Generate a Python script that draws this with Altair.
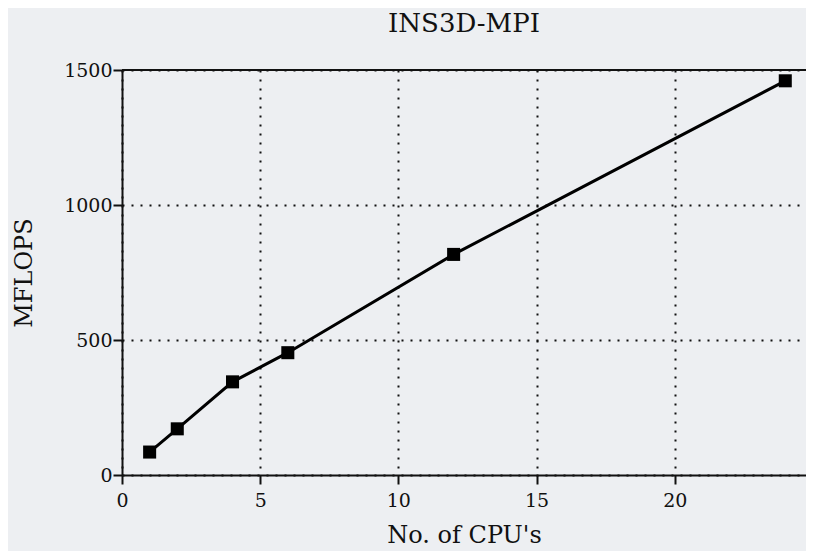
import altair as alt
import pandas as pd

cpus = [1, 2, 4, 6, 12, 24]
mflops = [85, 171, 345, 453, 817, 1460]
x_ticks = [0, 5, 10, 15, 20, 25]
y_ticks = [0, 500, 1000, 1500]

df = pd.DataFrame({"cpus": cpus, "mflops": mflops})
top_df = pd.DataFrame({"y": [1500]})

FONT = "DejaVu Serif"
BG = "#edeff2"

x_enc = alt.X(
    "cpus:Q",
    scale=alt.Scale(domain=[0, 24.75], nice=False, zero=False),
    axis=alt.Axis(
        values=x_ticks, title="No. of CPU's", grid=True, format="d",
        gridColor="#111", gridDash=[2, 7], gridWidth=2,
        domainColor="#111", domainWidth=2, tickColor="#111", tickWidth=2, tickSize=9,
        labelFont=FONT, labelFontSize=19, labelColor="#111", labelPadding=7,
        titleFont=FONT, titleFontSize=24, titleFontWeight="normal", titleColor="#111",
        titlePadding=13, labelFlush=False, labelOverlap=False,
    ),
)
y_enc = alt.Y(
    "mflops:Q",
    scale=alt.Scale(domain=[0, 1500], nice=False),
    axis=alt.Axis(
        values=y_ticks, title="MFLOPS", grid=True, format="d",
        gridColor="#111", gridDash=[2, 7], gridWidth=2,
        domainColor="#111", domainWidth=2, tickColor="#111", tickWidth=2, tickSize=9,
        labelFont=FONT, labelFontSize=19, labelColor="#111", labelPadding=1,
        titleFont=FONT, titleFontSize=24, titleFontWeight="normal", titleColor="#111",
        titlePadding=27, labelFlush=False,
    ),
)

line = alt.Chart(df).mark_line(color="#000", strokeWidth=3).encode(x=x_enc, y=y_enc)
pts = alt.Chart(df).mark_point(shape="square", filled=True, size=170, color="#000", opacity=1).encode(
    x="cpus:Q", y="mflops:Q"
)
top_rule = alt.Chart(top_df).mark_rule(color="#111", strokeWidth=2).encode(y="y:Q")

chart = (
    alt.layer(top_rule, line, pts)
    .properties(
        width=684,
        height=405,
        background=BG,
        autosize=alt.AutoSizeParams(type="none"),
        padding={"left": 114, "top": 62, "right": 0, "bottom": 76},
        title=alt.TitleParams(
            "INS3D-MPI", font=FONT, fontSize=26, fontWeight="normal", color="#111",
            anchor="middle", offset=24,
        ),
    )
    .configure_view(stroke=None)
)

chart.save("out.html", embed_options={"renderer": "svg", "actions": False})
